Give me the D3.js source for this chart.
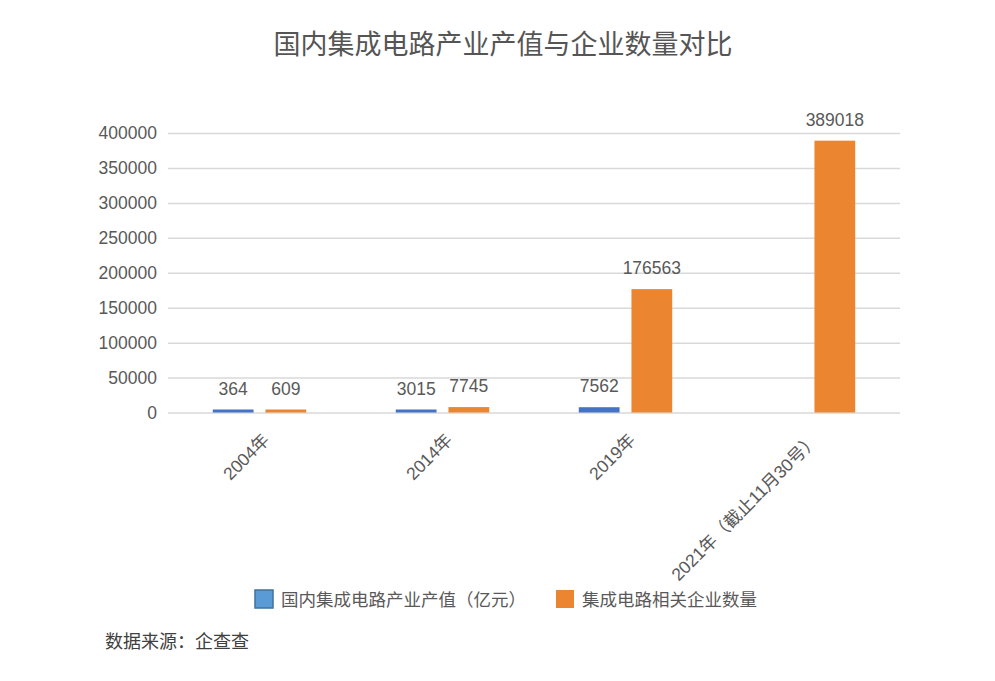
<!DOCTYPE html>
<html>
<head>
  <meta charset="utf-8">
  <script src="https://cdn.jsdelivr.net/npm/d3@7"></script>
<style>
  body {
    margin: 0;
    background: #fff;
  }
  text {
    font-family: "Liberation Sans", "Noto Sans CJK SC", sans-serif;
  }
</style>
</head>
<body>
<script type="text/javascript">
  // chart data
  var categories = ["2004年", "2014年", "2019年", "2021年（截止11月30号）"];
  var outputValue = [364, 3015, 7562, null];          // 国内集成电路产业产值（亿元）
  var companyCount = [609, 7745, 176563, 389018];     // 集成电路相关企业数量
  var seriesNames = ["国内集成电路产业产值（亿元）", "集成电路相关企业数量"];
  var yTicks = [0, 50000, 100000, 150000, 200000, 250000, 300000, 350000, 400000];

  function draw() {
    var width = 995, height = 681;
    var plotLeft = 168, plotRight = 900, plotTop = 133, plotBottom = 412.5;

    var barColors = ["#4472c4", "#ec8530"];
    var swatchColors = ["#5b9bd5", "#ec8530"];

    var svg = d3.select("body")
      .append("svg")
        .attr("width", width)
        .attr("height", height);

    // title
    svg.append("text")
        .attr("x", 503)
        .attr("y", 54)
        .attr("text-anchor", "middle")
        .style("font-size", "27px")
        .style("fill", "#555")
        .text("国内集成电路产业产值与企业数量对比");

    var x = d3.scaleBand()
        .domain(categories)
        .range([plotLeft, plotRight]);

    var x1 = d3.scaleBand()
        .domain([0, 1])
        .range([0, x.bandwidth()])
        .paddingInner(0.226)
        .paddingOuter(0.85);

    var y = d3.scaleLinear()
        .domain([0, 400000])
        .range([plotBottom, plotTop]);

    // gridlines + y labels
    var yAxis = d3.axisLeft(y)
        .tickValues(yTicks)
        .tickSize(-(plotRight - plotLeft))
        .tickPadding(11)
        .tickFormat(d3.format("d"));

    var ga = svg.append("g")
        .attr("transform", "translate(" + plotLeft + ",0)")
        .call(yAxis);
    ga.select(".domain").remove();
    ga.selectAll("line").style("stroke", "#d9d9d9").style("stroke-width", 1.5);
    ga.selectAll("text")
        .style("font-size", "17.5px")
        .style("fill", "#595959");

    // bars
    var series = [outputValue, companyCount];
    var rows = [];
    series.forEach(function (vals, s) {
      vals.forEach(function (v, i) {
        if (v != null) rows.push({cat: categories[i], s: s, v: v});
      });
    });

    // tiny values still get a visible sliver, as in the picture
    function barTop(d) {
      return Math.min(y(d.v), plotBottom - 3);
    }

    svg.append("g").selectAll("rect")
        .data(rows)
        .enter()
        .append("rect")
        .attr("x", function (d) { return x(d.cat) + x1(d.s); })
        .attr("width", x1.bandwidth())
        .attr("y", barTop)
        .attr("height", function (d) { return plotBottom - barTop(d); })
        .style("fill", function (d) { return barColors[d.s]; });

    // value labels
    svg.append("g").selectAll("text")
        .data(rows)
        .enter()
        .append("text")
        .attr("x", function (d) { return x(d.cat) + x1(d.s) + x1.bandwidth() / 2; })
        .attr("y", function (d) { return barTop(d) - 15; })
        .attr("text-anchor", "middle")
        .style("font-size", "17.5px")
        .style("fill", "#595959")
        .text(function (d) { return d.v; });

    // rotated category labels
    svg.append("g").selectAll("text")
        .data(categories)
        .enter()
        .append("text")
        .attr("transform", function (d) {
          return "translate(" + (x(d) + x.bandwidth() / 2 + 11) + ",441) rotate(-45)";
        })
        .attr("text-anchor", "end")
        .style("font-size", "17.5px")
        .style("fill", "#595959")
        .text(function (d) { return d; });

    // legend
    var legendX = [255, 556];
    var lg = svg.append("g").selectAll("g")
        .data(seriesNames)
        .enter()
        .append("g")
        .attr("transform", function (d, i) { return "translate(" + legendX[i] + ",590)"; });
    lg.append("rect")
        .attr("width", 18)
        .attr("height", 18)
        .style("fill", function (d, i) { return swatchColors[i]; })
        .style("stroke", function (d, i) { return i === 0 ? "#41719c" : "none"; })
        .style("stroke-width", 1.5);
    lg.append("text")
        .attr("x", 26)
        .attr("y", 15.5)
        .style("font-size", "17.5px")
        .style("fill", "#595959")
        .text(function (d) { return d; });

    // source note
    svg.append("text")
        .attr("x", 105)
        .attr("y", 648)
        .style("font-size", "18px")
        .style("fill", "#404040")
        .text("数据来源：企查查");
  }

  draw();
</script>
</body>
</html>
